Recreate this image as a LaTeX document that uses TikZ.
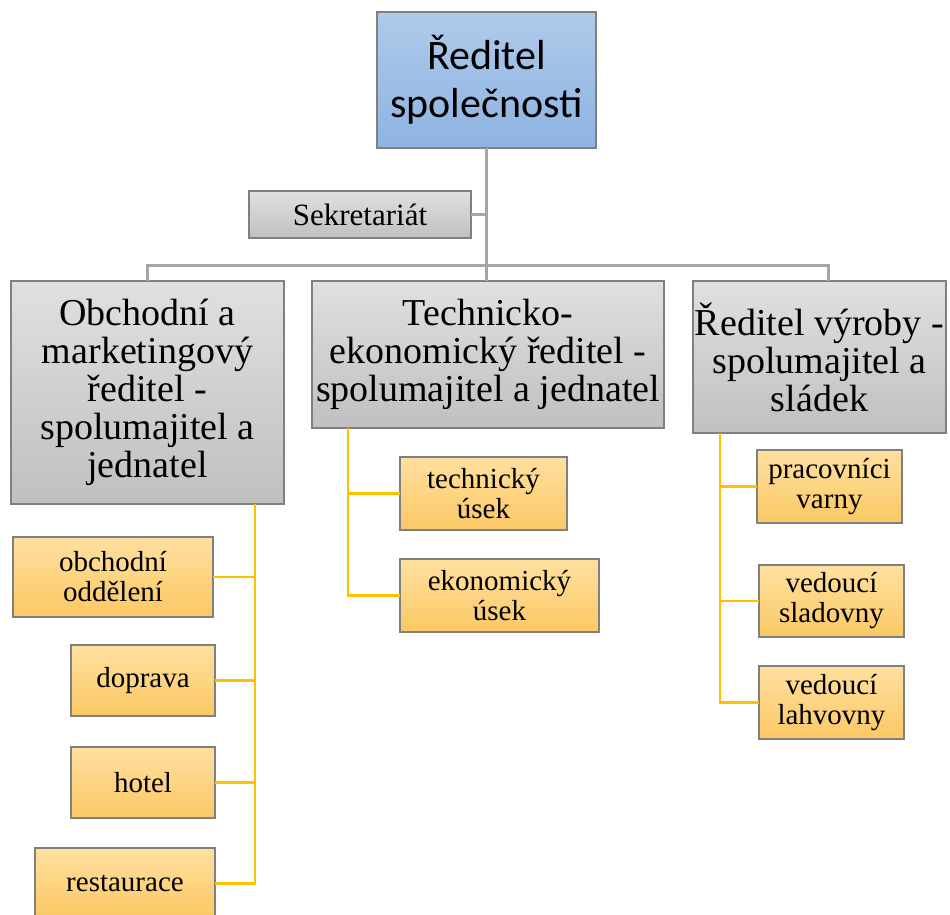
\documentclass[tikz,border=0pt]{standalone}
\usepackage{fontspec}
\setmainfont{Liberation Serif}
\newfontfamily\headfont{Carlito}
\definecolor{bluetop}{RGB}{176,201,234}
\definecolor{bluebot}{RGB}{141,180,226}
\definecolor{graytop}{RGB}{224,224,224}
\definecolor{graybot}{RGB}{192,192,192}
\definecolor{goldtop}{RGB}{255,224,160}
\definecolor{goldbot}{RGB}{251,200,100}
\definecolor{boxline}{RGB}{128,128,128}
\definecolor{trunkline}{RGB}{166,166,166}
\definecolor{branchline}{RGB}{255,192,0}
\tikzset{
    orgnode/.style = {
        rectangle,
        align=center,
        inner sep=0pt,
        outer sep=0pt,
        draw=boxline,
        line width=1.2pt
    },
    headnode/.style = {
        orgnode,
        top color=bluetop,
        bottom color=bluebot,
        font=\headfont\fontsize{42}{48}\selectfont
    },
    officenode/.style = {
        orgnode,
        top color=graytop,
        bottom color=graybot,
        font=\fontsize{31}{33}\selectfont
    },
    directornode/.style = {
        orgnode,
        top color=graytop,
        bottom color=graybot,
        font=\fontsize{38}{38}\selectfont
    },
    unitnode/.style = {
        orgnode,
        top color=goldtop,
        bottom color=goldbot,
        font=\fontsize{29}{30}\selectfont
    },
    trunk/.style = {draw=trunkline, line width=3pt},
    branch/.style = {draw=branchline, line width=2.5pt}
}
\begin{document}
\begin{tikzpicture}[x=1pt, y=-1pt]
    \useasboundingbox (0,0) rectangle (950,915);
    % vedeni
    \node [headnode, minimum width=219, minimum height=136] (head) at (486.5,80) {\v{R}editel\\spole\v{c}nosti};
    \node [officenode, minimum width=222, minimum height=47] (office) at (360,214.5) {Sekretariát};
    \node [directornode, minimum width=273, minimum height=223] (trade) at (147.5,392.5) {Obchodní a\\marketingový\\ředitel -\\spolumajitel a\\jednatel};
    \node [directornode, minimum width=352, minimum height=147] (tech) at (488,354.5) {Technicko-\\ekonomický ředitel -\\spolumajitel a jednatel};
    \node [directornode, minimum width=253, minimum height=152] (prod) at (819.5,357) {Ředitel výroby -\\spolumajitel a\\sládek};
    % useky
    \node [unitnode, minimum width=200, minimum height=80] (sales) at (113,577) {obchodní\\oddělení};
    \node [unitnode, minimum width=144, minimum height=71] (transport) at (143,680.5) {doprava};
    \node [unitnode, minimum width=144, minimum height=71] (hotel) at (143,782.5) {hotel};
    \node [unitnode, minimum width=180, minimum height=71] (restaurant) at (125,883.5) {restaurace};
    \node [unitnode, minimum width=167, minimum height=73] (technical) at (483.5,493.5) {technický\\úsek};
    \node [unitnode, minimum width=199, minimum height=73] (economic) at (499.5,595.5) {ekonomický\\úsek};
    \node [unitnode, minimum width=145, minimum height=73] (brewhouse) at (829.5,486.5) {pracovníci\\varny};
    \node [unitnode, minimum width=145, minimum height=72] (malthouse) at (831.5,601) {vedoucí\\sladovny};
    \node [unitnode, minimum width=145, minimum height=73] (bottling) at (831.5,702.5) {vedoucí\\lahvovny};
    % sedive spoje
    \draw [trunk] (head.south) -- (head.south |- tech.north);
    \draw [trunk] (trade.north) -- ++(0,-16) -| ([xshift=8.5pt]prod.north);
    \draw [trunk] (office.east) -- (office.east -| head.south);
    % zlute spoje
    \coordinate (tradebus) at (255,504);
    \coordinate (techbus) at (348,428);
    \coordinate (prodbus) at (720,433);
    \draw [branch] (tradebus) |- (restaurant.east);
    \draw [branch] (sales.east) -- (sales.east -| tradebus);
    \draw [branch] (transport.east) -- (transport.east -| tradebus);
    \draw [branch] (hotel.east) -- (hotel.east -| tradebus);
    \draw [branch] (techbus) |- (economic.west);
    \draw [branch] (technical.west) -- (technical.west -| techbus);
    \draw [branch] (prodbus) |- (bottling.west);
    \draw [branch] (brewhouse.west) -- (brewhouse.west -| prodbus);
    \draw [branch] (malthouse.west) -- (malthouse.west -| prodbus);
\end{tikzpicture}
\end{document}
